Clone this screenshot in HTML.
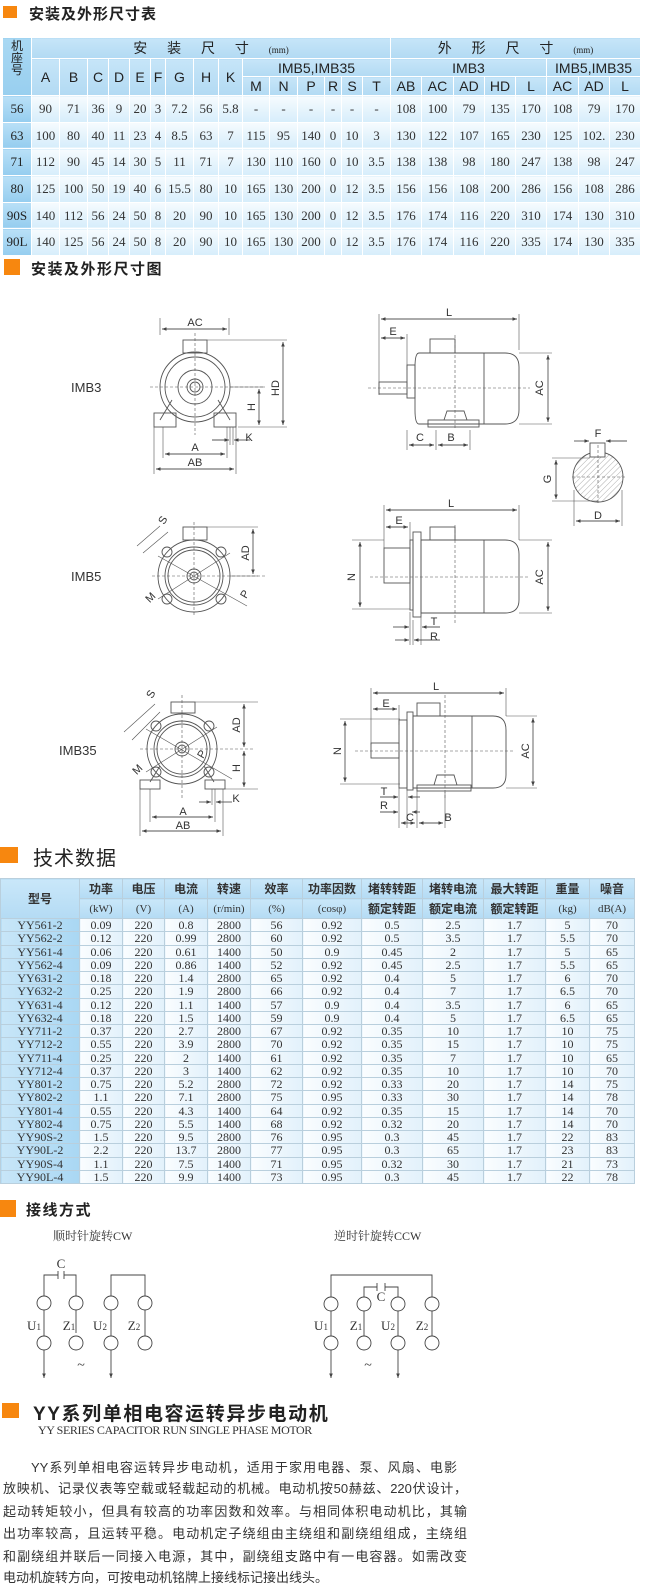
<!DOCTYPE html>
<html><head><meta charset="utf-8">
<style>
*{margin:0;padding:0;box-sizing:border-box}
body{width:647px;height:1593px;background:#fff;position:relative;overflow:hidden;font-family:"Liberation Sans","Noto Sans CJK SC",sans-serif;color:#222}
.sq{position:absolute;background:#f7870f}
.ttl{position:absolute;font-weight:bold;color:#222;white-space:nowrap;font-family:"Liberation Sans","Noto Sans CJK SC",sans-serif}
table{position:absolute;border-collapse:collapse;table-layout:fixed}
td{padding:0;text-align:center;vertical-align:middle;overflow:hidden;white-space:nowrap}
#t1 td{border:1px solid #fff;font-family:"Liberation Serif","Noto Serif CJK SC",serif;font-size:13px;color:#333}
#t1 td.h{background:linear-gradient(#c6e5f8,#b2daf3);font-family:"Liberation Sans","Noto Sans CJK SC",sans-serif;font-size:14px;color:#222}
#t1 td.f{background:linear-gradient(#b9e0f7,#95cdef);font-family:"Liberation Serif",serif;color:#222}
#t1 td.d{background:linear-gradient(#f6fbfe,#d6edfb)}
#t1 td.cj{font-family:"Liberation Sans","Noto Sans CJK SC",sans-serif;font-size:14px;letter-spacing:8px}
#t2 td{border:1px solid #b9cfdd;font-family:"Liberation Serif","Noto Serif CJK SC",serif;font-size:12px;color:#333;height:13.25px;line-height:12px}
#t2 td.h{background:linear-gradient(#c9e7f9,#b4dbf4);font-family:"Liberation Sans","Noto Sans CJK SC",sans-serif;font-weight:bold;font-size:12px;color:#333;height:20px}
#t2 td.hs{font-family:"Liberation Serif",serif;font-weight:normal;font-size:11px}
#t2 td.f{background:linear-gradient(90deg,#c8e6f8,#a9d7f3);color:#333}
#t2 td.d{background:linear-gradient(90deg,#fafdff,#e2f1fb)}
.p{position:absolute;left:3px;width:464px;font-size:13px;color:#333;text-align:justify;text-align-last:justify;white-space:nowrap;font-family:"Liberation Sans","Noto Sans CJK SC",sans-serif;line-height:16px}
svg text{font-family:"Liberation Sans",sans-serif;fill:#333}
svg text.sf{font-family:"Liberation Serif",serif}
</style></head><body>

<div class="sq" style="left:3px;top:6px;width:14px;height:12px"></div>
<div class="ttl" style="left:29px;top:3px;font-size:15px;letter-spacing:1px">安装及外形尺寸表</div>

<table id="t1" style="left:2px;top:37px;width:638px">
<colgroup><col style="width:29px"><col style="width:28px"><col style="width:28px"><col style="width:21px"><col style="width:21px"><col style="width:21px"><col style="width:15px"><col style="width:28px"><col style="width:25px"><col style="width:24px"><col style="width:27px"><col style="width:28px"><col style="width:27px"><col style="width:17px"><col style="width:21px"><col style="width:28px"><col style="width:31px"><col style="width:32px"><col style="width:31px"><col style="width:31px"><col style="width:31px"><col style="width:32px"><col style="width:31px"><col style="width:31px"></colgroup>
<tr style="height:18px"><td class="h" rowspan="3" style="font-size:12px;line-height:12px;vertical-align:top;padding-top:2px;background:linear-gradient(#a9d8f3,#98cfef)">机<br>座<br>号</td><td class="h cj" colspan="15">安 装 尺 寸 <span style="font-size:9px;letter-spacing:0;font-family:'Liberation Serif',serif">(mm)</span></td><td class="h cj" colspan="8">外 形 尺 寸 <span style="font-size:9px;letter-spacing:0;font-family:'Liberation Serif',serif">(mm)</span></td></tr>
<tr style="height:18px"><td class="h" rowspan="2">A</td><td class="h" rowspan="2">B</td><td class="h" rowspan="2">C</td><td class="h" rowspan="2">D</td><td class="h" rowspan="2">E</td><td class="h" rowspan="2">F</td><td class="h" rowspan="2">G</td><td class="h" rowspan="2">H</td><td class="h" rowspan="2">K</td><td class="h" colspan="6">IMB5,IMB35</td><td class="h" colspan="5">IMB3</td><td class="h" colspan="3">IMB5,IMB35</td></tr>
<tr style="height:19px"><td class="h">M</td><td class="h">N</td><td class="h">P</td><td class="h">R</td><td class="h">S</td><td class="h">T</td><td class="h">AB</td><td class="h">AC</td><td class="h">AD</td><td class="h">HD</td><td class="h">L</td><td class="h">AC</td><td class="h">AD</td><td class="h">L</td></tr>
<tr style="height:26.7px"><td class="f">56</td><td class="d">90</td><td class="d">71</td><td class="d">36</td><td class="d">9</td><td class="d">20</td><td class="d">3</td><td class="d">7.2</td><td class="d">56</td><td class="d">5.8</td><td class="d">-</td><td class="d">-</td><td class="d">-</td><td class="d">-</td><td class="d">-</td><td class="d">-</td><td class="d">108</td><td class="d">100</td><td class="d">79</td><td class="d">135</td><td class="d">170</td><td class="d">108</td><td class="d">79</td><td class="d">170</td></tr>
<tr style="height:26.7px"><td class="f">63</td><td class="d">100</td><td class="d">80</td><td class="d">40</td><td class="d">11</td><td class="d">23</td><td class="d">4</td><td class="d">8.5</td><td class="d">63</td><td class="d">7</td><td class="d">115</td><td class="d">95</td><td class="d">140</td><td class="d">0</td><td class="d">10</td><td class="d">3</td><td class="d">130</td><td class="d">122</td><td class="d">107</td><td class="d">165</td><td class="d">230</td><td class="d">125</td><td class="d">102.</td><td class="d">230</td></tr>
<tr style="height:26.7px"><td class="f">71</td><td class="d">112</td><td class="d">90</td><td class="d">45</td><td class="d">14</td><td class="d">30</td><td class="d">5</td><td class="d">11</td><td class="d">71</td><td class="d">7</td><td class="d">130</td><td class="d">110</td><td class="d">160</td><td class="d">0</td><td class="d">10</td><td class="d">3.5</td><td class="d">138</td><td class="d">138</td><td class="d">98</td><td class="d">180</td><td class="d">247</td><td class="d">138</td><td class="d">98</td><td class="d">247</td></tr>
<tr style="height:26.7px"><td class="f">80</td><td class="d">125</td><td class="d">100</td><td class="d">50</td><td class="d">19</td><td class="d">40</td><td class="d">6</td><td class="d">15.5</td><td class="d">80</td><td class="d">10</td><td class="d">165</td><td class="d">130</td><td class="d">200</td><td class="d">0</td><td class="d">12</td><td class="d">3.5</td><td class="d">156</td><td class="d">156</td><td class="d">108</td><td class="d">200</td><td class="d">286</td><td class="d">156</td><td class="d">108</td><td class="d">286</td></tr>
<tr style="height:26.7px"><td class="f">90S</td><td class="d">140</td><td class="d">112</td><td class="d">56</td><td class="d">24</td><td class="d">50</td><td class="d">8</td><td class="d">20</td><td class="d">90</td><td class="d">10</td><td class="d">165</td><td class="d">130</td><td class="d">200</td><td class="d">0</td><td class="d">12</td><td class="d">3.5</td><td class="d">176</td><td class="d">174</td><td class="d">116</td><td class="d">220</td><td class="d">310</td><td class="d">174</td><td class="d">130</td><td class="d">310</td></tr>
<tr style="height:26.7px"><td class="f">90L</td><td class="d">140</td><td class="d">125</td><td class="d">56</td><td class="d">24</td><td class="d">50</td><td class="d">8</td><td class="d">20</td><td class="d">90</td><td class="d">10</td><td class="d">165</td><td class="d">130</td><td class="d">200</td><td class="d">0</td><td class="d">12</td><td class="d">3.5</td><td class="d">176</td><td class="d">174</td><td class="d">116</td><td class="d">220</td><td class="d">335</td><td class="d">174</td><td class="d">130</td><td class="d">335</td></tr>
</table>

<div class="sq" style="left:4px;top:259px;width:16px;height:16px"></div>
<div class="ttl" style="left:31px;top:258px;font-size:15px;letter-spacing:1.5px">安装及外形尺寸图</div>

<div class="sq" style="left:0;top:847px;width:18px;height:16px"></div>
<div class="ttl" style="left:33px;top:842px;font-size:20px;font-weight:normal;letter-spacing:1px">技术数据</div>

<table id="t2" style="left:0;top:878px;width:634px">
<colgroup><col style="width:79px"><col style="width:43px"><col style="width:42px"><col style="width:43px"><col style="width:43px"><col style="width:52px"><col style="width:59px"><col style="width:61px"><col style="width:61px"><col style="width:62px"><col style="width:44px"><col style="width:45px"></colgroup>
<tr><td class="h" rowspan="2">型号</td><td class="h">功率</td><td class="h">电压</td><td class="h">电流</td><td class="h">转速</td><td class="h">效率</td><td class="h">功率因数</td><td class="h">堵转转距</td><td class="h">堵转电流</td><td class="h">最大转距</td><td class="h">重量</td><td class="h">噪音</td></tr>
<tr><td class="h hs">(kW)</td><td class="h hs">(V)</td><td class="h hs">(A)</td><td class="h hs">(r/min)</td><td class="h hs">(%)</td><td class="h hs">(cosφ)</td><td class="h">额定转距</td><td class="h">额定电流</td><td class="h">额定转距</td><td class="h hs">(kg)</td><td class="h hs">dB(A)</td></tr>
<tr><td class="f">YY561-2</td><td class="d">0.09</td><td class="d">220</td><td class="d">0.8</td><td class="d">2800</td><td class="d">56</td><td class="d">0.92</td><td class="d">0.5</td><td class="d">2.5</td><td class="d">1.7</td><td class="d">5</td><td class="d">70</td></tr>
<tr><td class="f">YY562-2</td><td class="d">0.12</td><td class="d">220</td><td class="d">0.99</td><td class="d">2800</td><td class="d">60</td><td class="d">0.92</td><td class="d">0.5</td><td class="d">3.5</td><td class="d">1.7</td><td class="d">5.5</td><td class="d">70</td></tr>
<tr><td class="f">YY561-4</td><td class="d">0.06</td><td class="d">220</td><td class="d">0.61</td><td class="d">1400</td><td class="d">50</td><td class="d">0.9</td><td class="d">0.45</td><td class="d">2</td><td class="d">1.7</td><td class="d">5</td><td class="d">65</td></tr>
<tr><td class="f">YY562-4</td><td class="d">0.09</td><td class="d">220</td><td class="d">0.86</td><td class="d">1400</td><td class="d">52</td><td class="d">0.92</td><td class="d">0.45</td><td class="d">2.5</td><td class="d">1.7</td><td class="d">5.5</td><td class="d">65</td></tr>
<tr><td class="f">YY631-2</td><td class="d">0.18</td><td class="d">220</td><td class="d">1.4</td><td class="d">2800</td><td class="d">65</td><td class="d">0.92</td><td class="d">0.4</td><td class="d">5</td><td class="d">1.7</td><td class="d">6</td><td class="d">70</td></tr>
<tr><td class="f">YY632-2</td><td class="d">0.25</td><td class="d">220</td><td class="d">1.9</td><td class="d">2800</td><td class="d">66</td><td class="d">0.92</td><td class="d">0.4</td><td class="d">7</td><td class="d">1.7</td><td class="d">6.5</td><td class="d">70</td></tr>
<tr><td class="f">YY631-4</td><td class="d">0.12</td><td class="d">220</td><td class="d">1.1</td><td class="d">1400</td><td class="d">57</td><td class="d">0.9</td><td class="d">0.4</td><td class="d">3.5</td><td class="d">1.7</td><td class="d">6</td><td class="d">65</td></tr>
<tr><td class="f">YY632-4</td><td class="d">0.18</td><td class="d">220</td><td class="d">1.5</td><td class="d">1400</td><td class="d">59</td><td class="d">0.9</td><td class="d">0.4</td><td class="d">5</td><td class="d">1.7</td><td class="d">6.5</td><td class="d">65</td></tr>
<tr><td class="f">YY711-2</td><td class="d">0.37</td><td class="d">220</td><td class="d">2.7</td><td class="d">2800</td><td class="d">67</td><td class="d">0.92</td><td class="d">0.35</td><td class="d">10</td><td class="d">1.7</td><td class="d">10</td><td class="d">75</td></tr>
<tr><td class="f">YY712-2</td><td class="d">0.55</td><td class="d">220</td><td class="d">3.9</td><td class="d">2800</td><td class="d">70</td><td class="d">0.92</td><td class="d">0.35</td><td class="d">15</td><td class="d">1.7</td><td class="d">10</td><td class="d">75</td></tr>
<tr><td class="f">YY711-4</td><td class="d">0.25</td><td class="d">220</td><td class="d">2</td><td class="d">1400</td><td class="d">61</td><td class="d">0.92</td><td class="d">0.35</td><td class="d">7</td><td class="d">1.7</td><td class="d">10</td><td class="d">65</td></tr>
<tr><td class="f">YY712-4</td><td class="d">0.37</td><td class="d">220</td><td class="d">3</td><td class="d">1400</td><td class="d">62</td><td class="d">0.92</td><td class="d">0.35</td><td class="d">10</td><td class="d">1.7</td><td class="d">10</td><td class="d">70</td></tr>
<tr><td class="f">YY801-2</td><td class="d">0.75</td><td class="d">220</td><td class="d">5.2</td><td class="d">2800</td><td class="d">72</td><td class="d">0.92</td><td class="d">0.33</td><td class="d">20</td><td class="d">1.7</td><td class="d">14</td><td class="d">75</td></tr>
<tr><td class="f">YY802-2</td><td class="d">1.1</td><td class="d">220</td><td class="d">7.1</td><td class="d">2800</td><td class="d">75</td><td class="d">0.95</td><td class="d">0.33</td><td class="d">30</td><td class="d">1.7</td><td class="d">14</td><td class="d">78</td></tr>
<tr><td class="f">YY801-4</td><td class="d">0.55</td><td class="d">220</td><td class="d">4.3</td><td class="d">1400</td><td class="d">64</td><td class="d">0.92</td><td class="d">0.35</td><td class="d">15</td><td class="d">1.7</td><td class="d">14</td><td class="d">70</td></tr>
<tr><td class="f">YY802-4</td><td class="d">0.75</td><td class="d">220</td><td class="d">5.5</td><td class="d">1400</td><td class="d">68</td><td class="d">0.92</td><td class="d">0.32</td><td class="d">20</td><td class="d">1.7</td><td class="d">14</td><td class="d">70</td></tr>
<tr><td class="f">YY90S-2</td><td class="d">1.5</td><td class="d">220</td><td class="d">9.5</td><td class="d">2800</td><td class="d">76</td><td class="d">0.95</td><td class="d">0.3</td><td class="d">45</td><td class="d">1.7</td><td class="d">22</td><td class="d">83</td></tr>
<tr><td class="f">YY90L-2</td><td class="d">2.2</td><td class="d">220</td><td class="d">13.7</td><td class="d">2800</td><td class="d">77</td><td class="d">0.95</td><td class="d">0.3</td><td class="d">65</td><td class="d">1.7</td><td class="d">23</td><td class="d">83</td></tr>
<tr><td class="f">YY90S-4</td><td class="d">1.1</td><td class="d">220</td><td class="d">7.5</td><td class="d">1400</td><td class="d">71</td><td class="d">0.95</td><td class="d">0.32</td><td class="d">30</td><td class="d">1.7</td><td class="d">21</td><td class="d">73</td></tr>
<tr><td class="f">YY90L-4</td><td class="d">1.5</td><td class="d">220</td><td class="d">9.9</td><td class="d">1400</td><td class="d">73</td><td class="d">0.95</td><td class="d">0.3</td><td class="d">45</td><td class="d">1.7</td><td class="d">22</td><td class="d">78</td></tr>
</table>

<div class="sq" style="left:0;top:1200px;width:16px;height:17px"></div>
<div class="ttl" style="left:26px;top:1199px;font-size:15px;letter-spacing:1.5px">接线方式</div>
<div style="position:absolute;left:53px;top:1227px;font-size:12px;color:#333;font-family:'Liberation Serif','Noto Serif CJK SC',serif">顺时针旋转CW</div>
<div style="position:absolute;left:334px;top:1227px;font-size:12px;color:#333;font-family:'Liberation Serif','Noto Serif CJK SC',serif">逆时针旋转CCW</div>

<div class="sq" style="left:2px;top:1403px;width:17px;height:15px"></div>
<div class="ttl" style="left:33px;top:1399px;font-size:19px;letter-spacing:1.6px">YY系列单相电容运转异步电动机</div>
<div style="position:absolute;left:38px;top:1423px;font-size:12px;color:#333;font-family:'Liberation Serif',serif;letter-spacing:-0.4px;white-space:nowrap">YY SERIES CAPACITOR RUN SINGLE PHASE MOTOR</div>

<div class="p" style="top:1460px;left:31px;width:426px">YY系列单相电容运转异步电动机，适用于家用电器、泵、风扇、电影</div>
<div class="p" style="top:1481px">放映机、记录仪表等空载或轻载起动的机械。电动机按50赫兹、220伏设计，</div>
<div class="p" style="top:1504px">起动转矩较小，但具有较高的功率因数和效率。与相同体积电动机比，其输</div>
<div class="p" style="top:1526px">出功率较高，且运转平稳。电动机定子绕组由主绕组和副绕组组成，主绕组</div>
<div class="p" style="top:1549px">和副绕组并联后一同接入电源，其中，副绕组支路中有一电容器。如需改变</div>
<div class="p" style="top:1570px;text-align-last:left">电动机旋转方向，可按电动机铭牌上接线标记接出线头。</div>

<svg width="647" height="1593" style="position:absolute;left:0;top:0" xmlns="http://www.w3.org/2000/svg">
<defs>
<marker id="a" markerWidth="6" markerHeight="6" refX="5" refY="3" orient="auto-start-reverse"><path d="M0,1 L5,3 L0,5 z" fill="#444"/></marker>
<pattern id="hatch" width="4" height="4" patternUnits="userSpaceOnUse" patternTransform="rotate(45)"><line x1="0" y1="0" x2="0" y2="4" stroke="#777" stroke-width="0.6"/></pattern>
</defs>
<g fill="none" stroke="#555" stroke-width="0.9">
<rect x="183" y="340" width="24" height="13"/>
<path d="M160,420 L172,400 M230,420 L218,400"/>
<rect x="154" y="413" width="22" height="14"/><rect x="214" y="413" width="22" height="14"/>
<circle cx="195" cy="387" r="35"/><circle cx="195" cy="387" r="30"/><circle cx="195" cy="387" r="17"/><circle cx="195" cy="387" r="8"/><circle cx="195" cy="387" r="5"/>
<path d="M207,340 L287,340 M238,427 L287,427 M230,387 L265,387" stroke-width="0.6"/>
<path d="M160,318 L160,335 M229,318 L229,335 M154,427 L154,474 M236,427 L236,474 M163,427 L163,458 M227,427 L227,458 M230,427 L230,445 M233,427 L233,445" stroke-width="0.6"/>
<path d="M283,342 L283,425" marker-start="url(#a)" marker-end="url(#a)"/>
<path d="M259,389 L259,425" marker-start="url(#a)" marker-end="url(#a)"/>
<path d="M162,329 L227,329" marker-start="url(#a)" marker-end="url(#a)"/>
<path d="M165,454 L225,454" marker-start="url(#a)" marker-end="url(#a)"/>
<path d="M156,469 L234,469" marker-start="url(#a)" marker-end="url(#a)"/>
<path d="M212,440 L229,440" marker-end="url(#a)"/><path d="M250,440 L234,440" marker-end="url(#a)"/>
<path d="M150,387 L265,387 M195,333 L195,435" stroke-dasharray="3,2" stroke-width="0.6"/>
<rect x="430" y="339" width="25" height="14"/>
<path d="M419,353 L505,353 Q519,353 519,367 L519,410 Q519,424 505,424 L419,424 Q415,424 415,410 L415,367 Q415,353 419,353 Z"/>
<line x1="484" y1="353" x2="484" y2="424"/>
<rect x="407" y="365" width="8" height="33"/>
<rect x="379" y="382" width="28" height="12"/>
<rect x="428" y="420" width="51" height="7"/><path d="M444,420 L447,411 L464,411 L467,420"/>
<path d="M368,388 L530,388 M455,335 L455,430" stroke-dasharray="3,2" stroke-width="0.6"/>
<path d="M379,314 L379,395 M519,314 L519,350 M407,334 L407,370 M407,430 L407,450 M436,430 L436,450 M470,430 L470,450 M519,353 L552,353 M519,424 L552,424" stroke-width="0.6"/>
<path d="M381,319 L517,319" marker-start="url(#a)" marker-end="url(#a)"/>
<path d="M381,338 L405,338" marker-start="url(#a)" marker-end="url(#a)"/>
<path d="M548,355 L548,422" marker-start="url(#a)" marker-end="url(#a)"/>
<path d="M409,445 L434,445" marker-start="url(#a)" marker-end="url(#a)"/>
<path d="M438,445 L468,445" marker-start="url(#a)" marker-end="url(#a)"/>
<circle cx="598" cy="477" r="25" fill="url(#hatch)"/>
<rect x="590" y="443" width="15" height="14" fill="#fff"/>
<path d="M572,477 L626,477 M598,445 L598,505" stroke-dasharray="3,2" stroke-width="0.6"/>
<path d="M552,458 L590,458 M552,501 L598,501 M574,490 L574,526 M622,490 L622,526" stroke-width="0.6"/>
<path d="M556,460 L556,499" marker-start="url(#a)" marker-end="url(#a)"/>
<path d="M576,521 L620,521" marker-start="url(#a)" marker-end="url(#a)"/>
<path d="M574,441 L589,441" marker-end="url(#a)"/><path d="M627,441 L606,441" marker-end="url(#a)"/>
<rect x="183" y="527" width="24" height="13"/>
<circle cx="194" cy="576" r="36"/><circle cx="194" cy="576" r="29"/><circle cx="194" cy="576" r="26"/><circle cx="194" cy="576" r="7"/><circle cx="194" cy="576" r="4"/>
<circle cx="167" cy="552" r="5"/><circle cx="221" cy="552" r="5"/><circle cx="167" cy="599" r="5"/><circle cx="221" cy="599" r="5"/>
<path d="M152,576 L265,576 M194,522 L194,616" stroke-dasharray="3,2" stroke-width="0.6"/>
<path d="M158,556 L247,606 M158,599 L230,553 M207,527 L258,527 M230,576 L258,576" stroke-width="0.6"/>
<path d="M253,529 L253,574" marker-start="url(#a)" marker-end="url(#a)"/>
<path d="M143,553 L168,532" stroke-width="0.6"/><path d="M137,546 L160,526" stroke-width="0.6"/>
<rect x="430" y="527" width="25" height="13"/>
<path d="M421,540 L505,540 Q519,540 519,554 L519,600 Q519,613 505,613 L421,613 Z"/>
<line x1="484" y1="540" x2="484" y2="613"/>
<rect x="413" y="532" width="8" height="85"/><rect x="410" y="540" width="3" height="70"/>
<rect x="384" y="548" width="26" height="35"/>
<path d="M370,577 L530,577 M455,525 L455,625" stroke-dasharray="3,2" stroke-width="0.6"/>
<path d="M384,505 L384,548 M519,505 L519,540 M410,522 L410,545 M352,609 L410,609 M352,540 L384,540 M519,540 L552,540 M519,613 L552,613 M410,612 L410,645 M413,620 L413,645 M421,617 L421,645" stroke-width="0.6"/>
<path d="M386,510 L517,510" marker-start="url(#a)" marker-end="url(#a)"/>
<path d="M386,527 L408,527" marker-start="url(#a)" marker-end="url(#a)"/>
<path d="M360,542 L360,607" marker-start="url(#a)" marker-end="url(#a)"/>
<path d="M548,542 L548,611" marker-start="url(#a)" marker-end="url(#a)"/>
<path d="M393,627 L409,627" marker-end="url(#a)"/><path d="M440,627 L422,627" marker-end="url(#a)"/>
<path d="M395,640 L409,640" marker-end="url(#a)"/><path d="M440,640 L414,640" marker-end="url(#a)"/>
<rect x="171" y="702" width="24" height="11"/>
<path d="M150,782 L160,766 M214,782 L204,766"/>
<rect x="140" y="780" width="20" height="9"/><rect x="205" y="780" width="20" height="9"/>
<circle cx="182" cy="749" r="35"/><circle cx="182" cy="749" r="28"/><circle cx="182" cy="749" r="25"/><circle cx="182" cy="749" r="7"/><circle cx="182" cy="749" r="4"/>
<circle cx="156" cy="726" r="5"/><circle cx="209" cy="726" r="5"/><circle cx="156" cy="772" r="5"/><circle cx="209" cy="772" r="5"/>
<path d="M140,749 L255,749 M182,695 L182,800" stroke-dasharray="3,2" stroke-width="0.6"/>
<path d="M146,729 L232,779 M146,772 L217,727 M195,702 L258,702 M225,789 L258,789" stroke-width="0.6"/>
<path d="M244,704 L244,747" marker-start="url(#a)" marker-end="url(#a)"/>
<path d="M244,751 L244,787" marker-start="url(#a)" marker-end="url(#a)"/>
<path d="M140,789 L140,836 M223,789 L223,836 M150,789 L150,822 M215,789 L215,822 M212,789 L212,805 M215,789 L215,805" stroke-width="0.6"/>
<path d="M152,817 L213,817" marker-start="url(#a)" marker-end="url(#a)"/>
<path d="M142,831 L221,831" marker-start="url(#a)" marker-end="url(#a)"/>
<path d="M199,802 L211,802" marker-end="url(#a)"/><path d="M232,802 L216,802" marker-end="url(#a)"/>
<path d="M124,732 L155,704" stroke-width="0.6"/><path d="M132,740 L160,712" stroke-width="0.6"/>
<rect x="417" y="703" width="23" height="13"/>
<path d="M413,716 L493,716 Q506,716 506,730 L506,775 Q506,788 493,788 L413,788 Z"/>
<line x1="472" y1="716" x2="472" y2="788"/>
<rect x="407" y="712" width="6" height="78"/><rect x="399" y="720" width="8" height="68"/>
<rect x="371" y="743" width="28" height="15"/>
<rect x="417" y="785" width="54" height="6"/><path d="M434,785 L437,775 L454,775 L457,785"/>
<path d="M355,751 L515,751 M445,695 L445,800" stroke-dasharray="3,2" stroke-width="0.6"/>
<path d="M371,688 L371,745 M506,688 L506,716 M399,705 L399,725 M340,719 L400,719 M340,784 L400,784 M506,716 L537,716 M506,788 L537,788 M399,788 L399,828 M407,790 L407,828 M417,790 L417,828 M445,792 L445,828" stroke-width="0.6"/>
<path d="M373,693 L504,693" marker-start="url(#a)" marker-end="url(#a)"/>
<path d="M373,709 L397,709" marker-start="url(#a)" marker-end="url(#a)"/>
<path d="M345,721 L345,782" marker-start="url(#a)" marker-end="url(#a)"/>
<path d="M533,718 L533,786" marker-start="url(#a)" marker-end="url(#a)"/>
<path d="M380,797 L398,797" marker-end="url(#a)"/><path d="M420,797 L408,797" marker-end="url(#a)"/>
<path d="M380,812 L398,812" marker-end="url(#a)"/><path d="M420,812 L412,812" marker-end="url(#a)"/>
<path d="M401,823 L415,823" marker-start="url(#a)" marker-end="url(#a)"/>
<path d="M419,823 L443,823" marker-start="url(#a)" marker-end="url(#a)"/>
</g>
<g font-size="11" text-anchor="middle">
<text x="71" y="392" font-size="13" text-anchor="start">IMB3</text>
<text x="71" y="581" font-size="13" text-anchor="start">IMB5</text>
<text x="59" y="755" font-size="13" text-anchor="start">IMB35</text>
<text x="195" y="326">AC</text><text x="195" y="451">A</text><text x="195" y="466">AB</text><text x="249" y="441">K</text>
<text transform="translate(279,388) rotate(-90)">HD</text><text transform="translate(255,407) rotate(-90)">H</text>
<text x="449" y="316">L</text><text x="393" y="335">E</text><text x="420" y="441">C</text><text x="451" y="441">B</text>
<text transform="translate(543,388) rotate(-90)">AC</text>
<text x="598" y="437">F</text><text x="598" y="519">D</text><text transform="translate(551,479) rotate(-90)">G</text>
<text transform="translate(166,522) rotate(-60)">S</text><text transform="translate(153,600) rotate(-45)">M</text><text transform="translate(248,596) rotate(-60)">P</text>
<text transform="translate(249,553) rotate(-90)">AD</text>
<text x="451" y="507">L</text><text x="399" y="524">E</text><text transform="translate(355,577) rotate(-90)">N</text>
<text transform="translate(543,577) rotate(-90)">AC</text><text x="434" y="625">T</text><text x="434" y="640">R</text>
<text transform="translate(154,696) rotate(-60)">S</text><text transform="translate(140,772) rotate(-45)">M</text><text transform="translate(205,756) rotate(-60)">P</text>
<text transform="translate(240,725) rotate(-90)">AD</text><text transform="translate(240,768) rotate(-90)">H</text>
<text x="183" y="815">A</text><text x="183" y="829">AB</text><text x="236" y="802">K</text>
<text x="436" y="690">L</text><text x="386" y="707">E</text><text transform="translate(341,751) rotate(-90)">N</text>
<text transform="translate(529,751) rotate(-90)">AC</text><text x="384" y="795">T</text><text x="384" y="809">R</text>
<text x="410" y="821">C</text><text x="448" y="821">B</text>
</g>
<g fill="#fff" stroke="#444" stroke-width="0.9">
<circle cx="44" cy="1303" r="7"/><circle cx="76" cy="1303" r="7"/><circle cx="111" cy="1303" r="7"/><circle cx="145" cy="1303" r="7"/>
<circle cx="44" cy="1343" r="7"/><circle cx="76" cy="1343" r="7"/><circle cx="111" cy="1343" r="7"/><circle cx="145" cy="1343" r="7"/>
<circle cx="331" cy="1304" r="7"/><circle cx="364" cy="1304" r="7"/><circle cx="398" cy="1304" r="7"/><circle cx="432" cy="1304" r="7"/>
<circle cx="331" cy="1343" r="7"/><circle cx="364" cy="1343" r="7"/><circle cx="398" cy="1343" r="7"/><circle cx="432" cy="1343" r="7"/>
</g>
<g fill="none" stroke="#444" stroke-width="0.9">
<path d="M44,1296 L44,1275 L58,1275 M58,1271 L58,1279 M64,1271 L64,1279 M64,1275 L76,1275 L76,1296"/>
<path d="M111,1296 L111,1275 L145,1275 L145,1296"/>
<path d="M44,1310 L44,1336 M76,1310 L76,1333 M111,1310 L111,1336 M145,1310 L145,1336"/>
<path d="M44,1350 L44,1378" marker-end="url(#a)"/><path d="M111,1350 L111,1378" marker-end="url(#a)"/>
<path d="M331,1297 L331,1275 L432,1275 L432,1297"/>
<path d="M364,1297 L364,1287 L377,1287 M377,1283 L377,1291 M385,1283 L385,1291 M385,1287 L398,1287 L398,1297"/>
<path d="M331,1311 L331,1336 M364,1311 L364,1336 M398,1311 L398,1336 M432,1311 L432,1336"/>
<path d="M331,1350 L331,1378" marker-end="url(#a)"/><path d="M398,1350 L398,1378" marker-end="url(#a)"/>
</g>
<g font-size="13" text-anchor="middle">
<text class="sf" x="61" y="1268">C</text><text class="sf" x="381" y="1301">C</text>
<text class="sf" x="34" y="1330">U<tspan font-size="9">1</tspan></text><text class="sf" x="69" y="1330">Z<tspan font-size="9">1</tspan></text><text class="sf" x="100" y="1330">U<tspan font-size="9">2</tspan></text><text class="sf" x="134" y="1330">Z<tspan font-size="9">2</tspan></text>
<text class="sf" x="321" y="1330">U<tspan font-size="9">1</tspan></text><text class="sf" x="356" y="1330">Z<tspan font-size="9">1</tspan></text><text class="sf" x="388" y="1330">U<tspan font-size="9">2</tspan></text><text class="sf" x="422" y="1330">Z<tspan font-size="9">2</tspan></text>
<text class="sf" x="81" y="1369" font-size="14">~</text><text class="sf" x="368" y="1369" font-size="14">~</text>
</g>
</svg>
</body></html>
